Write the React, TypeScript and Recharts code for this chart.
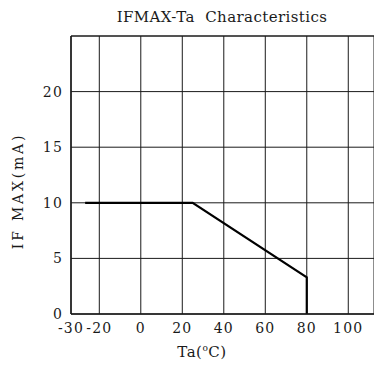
import React from 'react';
import { LineChart, Line, XAxis, YAxis, CartesianGrid, ReferenceLine } from 'recharts';

// Ambient temperature tick labels (°C) and forward-current tick labels (mA)
const TA_TICKS = [-30, -20, 0, 20, 40, 60, 80, 100];
const IF_TICKS = [0, 5, 10, 15, 20];
const IF_MAX_AXIS = 25;
const TA_MAX_AXIS = 112.4;

// Derating curve IFMAX vs Ta
const CURVE_TA = [-25, 25, 80, 80];
const CURVE_IF = [10, 10, 3.3, 0];

// The printed axis stretches the -30..-20 segment
const FIRST_SEGMENT_STRETCH = 1.364;
const axisPos = (ta: number) => (ta >= -20 ? ta : -20 + (ta + 20) * FIRST_SEGMENT_STRETCH);

const data = CURVE_TA.map((ta, i) => ({ pos: axisPos(ta), ta, ifmax: CURVE_IF[i] }));
const tickPositions = TA_TICKS.map(axisPos);

const FONT = '"DejaVu Serif", serif';
const INK = '#1a1a1a';

export default function App() {
  return (
    <div style={{ position: 'relative', width: 374, height: 365 }}>
      <style>{'body{margin:0;overflow:hidden}'}</style>
      <div
        style={{
          position: 'absolute',
          left: 0,
          top: 7,
          width: 444,
          textAlign: 'center',
          fontFamily: FONT,
          fontSize: 15,
          letterSpacing: 0.4,
          color: INK,
          whiteSpace: 'pre',
          lineHeight: '20px',
        }}
      >
        {'IFMAX-Ta  Characteristics'}
      </div>
      <LineChart width={374} height={365} data={data} margin={{ top: 36, right: 0, bottom: 0, left: 0 }}>
        <CartesianGrid stroke={INK} strokeWidth={1} />
        <ReferenceLine y={IF_MAX_AXIS} stroke={INK} strokeWidth={1} />
        <XAxis
          type="number"
          dataKey="pos"
          domain={[axisPos(-30), TA_MAX_AXIS]}
          ticks={tickPositions}
          allowDataOverflow
          tickFormatter={(v: number) => {
            const i = tickPositions.findIndex((p) => Math.abs(p - v) < 1e-6);
            return i >= 0 ? String(TA_TICKS[i]) : '';
          }}
          interval={0}
          height={51}
          tickLine={false}
          tickSize={0}
          tickMargin={9}
          axisLine={{ stroke: INK, strokeWidth: 1.5 }}
          tick={{ fill: INK, fontFamily: FONT, fontSize: 14, letterSpacing: 1.2 }}
          label={(props: any) => {
            const vb = props.viewBox;
            const cx = 202;
            const y = vb.y + 43;
            return (
              <text x={cx} y={y} textAnchor="middle" fill={INK} fontFamily={FONT} fontSize={15} letterSpacing={0.5}>
                Ta(
                <tspan dy={-6} fontSize={9}>o</tspan>
                <tspan dy={6}>C)</tspan>
              </text>
            );
          }}
        />
        <YAxis
          type="number"
          domain={[0, IF_MAX_AXIS]}
          ticks={IF_TICKS}
          interval={0}
          width={71}
          tickLine={false}
          tickSize={0}
          tickMargin={8}
          axisLine={{ stroke: INK, strokeWidth: 1.5 }}
          tick={{ fill: INK, fontFamily: FONT, fontSize: 14, letterSpacing: 1.2 }}
          label={(props: any) => {
            const vb = props.viewBox;
            const x = 23;
            const y = vb.y + vb.height / 2 + 16;
            return (
              <text
                x={x}
                y={y}
                transform={`rotate(-90, ${x}, ${y})`}
                textAnchor="middle"
                fill={INK}
                fontFamily={FONT}
                fontSize={14}
                letterSpacing={2.8}
              >
                IF MAX(mA)
              </text>
            );
          }}
        />
        <Line
          type="linear"
          dataKey="ifmax"
          stroke="#000"
          strokeWidth={2.2}
          dot={false}
          activeDot={false}
          isAnimationActive={false}
        />
      </LineChart>
    </div>
  );
}
